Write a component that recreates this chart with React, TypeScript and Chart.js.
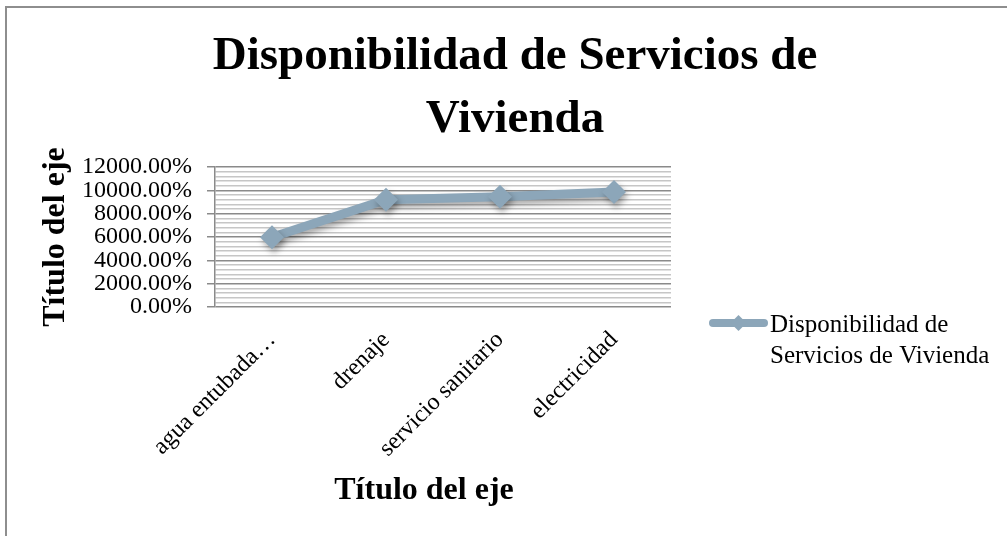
import React, { useEffect, useRef } from 'react';
import { Chart, registerables } from 'chart.js';

Chart.register(...registerables);

// ---------- data ----------
const categories = ['agua entubada…', 'drenaje', 'servicio sanitario', 'electricidad'];
const seriesLabel = 'Disponibilidad de Servicios de Vivienda';
const seriesValues = [5970, 9200, 9450, 9860];
const titleLines = ['Disponibilidad de Servicios de', 'Vivienda'];
const xAxisTitle = 'Título del eje';
const yAxisTitle = 'Título del eje';
const legendLines = ['Disponibilidad de', 'Servicios de Vivienda'];
const yMin = 0;
const yMax = 12000;
const yMajorStep = 2000;
const yMinorStep = 400;

// ---------- style ----------
const SERIF = '"Liberation Serif", "Times New Roman", serif';
const LINE_COLOR = '#8ca6b9';
const MAJOR_GRID = '#8a8a8a';
const MINOR_GRID = '#c6c6c6';

const isMajor = (v: number) => Math.abs(v % yMajorStep) < 1e-6;

const shadowPlugin = {
  id: 'lineShadow',
  beforeDatasetDraw(chart: any) {
    const c = chart.ctx;
    c.save();
    c.shadowColor = 'rgba(0,0,0,0.35)';
    c.shadowBlur = 6;
    c.shadowOffsetX = 2;
    c.shadowOffsetY = 4;
  },
  afterDatasetDraw(chart: any) {
    chart.ctx.restore();
  },
};

const sideLegendPlugin = {
  id: 'sideLegend',
  afterDraw(chart: any) {
    const { ctx, chartArea } = chart;
    const ds = chart.data.datasets[0];
    const x0 = chartArea.right + 38;
    const x1 = chartArea.right + 97;
    const y = chartArea.top + 156;
    ctx.save();
    ctx.strokeStyle = ds.borderColor;
    ctx.fillStyle = ds.borderColor;
    ctx.lineWidth = 8;
    ctx.lineCap = 'round';
    ctx.beginPath();
    ctx.moveTo(x0 + 4, y);
    ctx.lineTo(x1 - 4, y);
    ctx.stroke();
    const cx = (x0 + x1) / 2;
    const r = 8;
    ctx.beginPath();
    ctx.moveTo(cx, y - r);
    ctx.lineTo(cx + r, y);
    ctx.lineTo(cx, y + r);
    ctx.lineTo(cx - r, y);
    ctx.closePath();
    ctx.fill();
    ctx.fillStyle = '#000';
    ctx.font = `25px ${SERIF}`;
    ctx.textAlign = 'left';
    ctx.textBaseline = 'alphabetic';
    legendLines.forEach((line, i) => {
      ctx.fillText(line, chartArea.right + 99, y + 9 + i * 31);
    });

    // category-axis title, set slightly left of the plot centre as in the original
    ctx.font = `bold 32px ${SERIF}`;
    ctx.textAlign = 'center';
    ctx.textBaseline = 'alphabetic';
    ctx.fillText(xAxisTitle, (chartArea.left + chartArea.right) / 2 - 19, chartArea.bottom + 192);
    ctx.restore();
  },
};

export default function App() {
  const ref = useRef<HTMLCanvasElement>(null);

  useEffect(() => {
    if (!ref.current) return;
    const chart = new Chart(ref.current, {
      type: 'line',
      data: {
        labels: categories,
        datasets: [
          {
            label: seriesLabel,
            data: seriesValues,
            borderColor: LINE_COLOR,
            backgroundColor: LINE_COLOR,
            borderWidth: 9,
            pointStyle: 'rectRot',
            pointRadius: 12,
            pointBorderWidth: 0,
            pointBackgroundColor: LINE_COLOR,
            tension: 0,
            fill: false,
          },
        ],
      },
      options: {
        responsive: false,
        animation: false,
        devicePixelRatio: 1,
        layout: { padding: 0 },
        plugins: {
          legend: { display: false },
          tooltip: { enabled: false },
          title: {
            display: true,
            text: titleLines,
            color: '#000',
            font: { family: SERIF, size: 47, weight: 'bold', lineHeight: '63px' },
            padding: { top: 17, bottom: 16 },
          },
        },
        scales: {
          x: {
            type: 'category',
            offset: true,
            grid: { display: false },
            border: { display: false },
            ticks: {
              color: '#000',
              font: { family: SERIF, size: 24 },
              minRotation: 45,
              maxRotation: 45,
              autoSkip: false,
              padding: 11,
            },
            title: { display: false },
            afterFit: (s: any) => {
              s.height = 229;
            },
          },
          y: {
            type: 'linear',
            min: yMin,
            max: yMax,
            ticks: {
              stepSize: yMinorStep,
              maxTicksLimit: 100,
              autoSkip: false,
              color: '#000',
              font: { family: SERIF, size: 24 },
              padding: 15,
              callback: (v: any) => (isMajor(Number(v)) ? Number(v).toFixed(2) + '%' : ''),
            },
            grid: {
              color: (c: any) => (isMajor(c.tick.value) ? MAJOR_GRID : MINOR_GRID),
              lineWidth: 1.5,
              tickColor: (c: any) => (isMajor(c.tick.value) ? MAJOR_GRID : 'rgba(0,0,0,0)'),
              tickLength: 8,
            },
            border: { display: true, color: MAJOR_GRID, width: 1.5 },
            title: {
              display: true,
              text: yAxisTitle,
              color: '#000',
              font: { family: SERIF, size: 32, weight: 'bold' },
              padding: { top: 30, bottom: 0 },
            },
            afterFit: (s: any) => {
              s.width = 208;
            },
          },
          yR: {
            type: 'linear',
            position: 'right',
            display: true,
            grid: { display: false },
            border: { display: false },
            ticks: { display: false },
            afterFit: (s: any) => {
              s.width = 352;
            },
          },
        },
      },
      plugins: [shadowPlugin, sideLegendPlugin],
    } as any);
    return () => chart.destroy();
  }, []);

  return (
    <div
      style={{
        position: 'fixed',
        left: 0,
        top: 0,
        width: 1007,
        height: 536,
        overflow: 'hidden',
        background: '#fff',
      }}
    >
      <div
        style={{
          position: 'absolute',
          left: 5,
          top: 6,
          border: '2px solid #8e8e8e',
          width: 1016,
          height: 528,
        }}
      >
        <canvas ref={ref} width={1016} height={528} style={{ display: 'block', width: 1016, height: 528 }} />
      </div>
    </div>
  );
}
